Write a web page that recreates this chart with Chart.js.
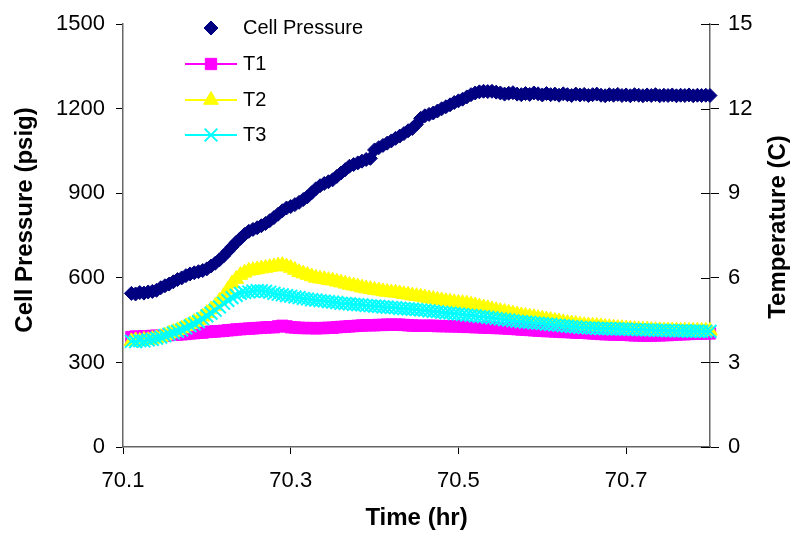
<!DOCTYPE html>
<html><head><meta charset="utf-8">
<script src="https://cdn.jsdelivr.net/npm/chart.js@4/dist/chart.umd.min.js"></script>
<style>html,body{margin:0;padding:0;background:#fff;} #wrap{width:795px;height:539px;}</style>
</head><body><div id="wrap"><canvas id="c" width="795" height="539"></canvas></div>
<script>
const times = [
70.110,70.115,70.120,70.125,70.130,70.135,70.140,70.145,70.150,70.155,
70.160,70.165,70.170,70.175,70.180,70.185,70.190,70.195,70.200,70.205,
70.210,70.215,70.220,70.225,70.230,70.235,70.240,70.245,70.250,70.255,
70.260,70.265,70.270,70.275,70.280,70.285,70.290,70.295,70.300,70.305,
70.310,70.315,70.320,70.325,70.330,70.335,70.340,70.345,70.350,70.355,
70.360,70.365,70.370,70.375,70.380,70.385,70.390,70.395,70.400,70.405,
70.410,70.415,70.420,70.425,70.430,70.435,70.440,70.445,70.450,70.455,
70.460,70.465,70.470,70.475,70.480,70.485,70.490,70.495,70.500,70.505,
70.510,70.515,70.520,70.525,70.530,70.535,70.540,70.545,70.550,70.555,
70.560,70.565,70.570,70.575,70.580,70.585,70.590,70.595,70.600,70.605,
70.610,70.615,70.620,70.625,70.630,70.635,70.640,70.645,70.650,70.655,
70.660,70.665,70.670,70.675,70.680,70.685,70.690,70.695,70.700,70.705,
70.710,70.715,70.720,70.725,70.730,70.735,70.740,70.745,70.750,70.755,
70.760,70.765,70.770,70.775,70.780,70.785,70.790,70.795,70.800];

const cellPressure = [
545,543,548,546,550,552,556,565,572,578,
586,594,600,608,614,618,622,626,632,642,
652,664,678,694,710,726,740,754,765,772,
778,785,793,803,814,826,838,848,853,860,
868,878,888,902,916,927,935,941,948,960,
972,984,996,1002,1008,1014,1020,1024,1054,1062,
1070,1078,1086,1095,1103,1112,1122,1130,1145,1166,
1175,1180,1185,1192,1200,1207,1214,1222,1228,1234,
1242,1250,1256,1260,1262,1261,1262,1259,1256,1252,
1255,1257,1252,1250,1254,1251,1256,1253,1249,1254,
1250,1252,1248,1253,1250,1247,1252,1249,1251,1247,
1250,1252,1248,1246,1250,1248,1251,1247,1249,1246,
1250,1248,1246,1249,1247,1250,1246,1248,1247,1249,
1246,1248,1247,1249,1246,1248,1247,1248,1247];

const tempT1 = [
3.90,3.92,3.91,3.93,3.92,3.94,3.95,3.94,3.95,3.97,
3.98,3.99,4.00,4.01,4.03,4.04,4.05,4.06,4.08,4.09,
4.10,4.11,4.12,4.14,4.15,4.17,4.18,4.19,4.20,4.21,
4.22,4.23,4.24,4.25,4.25,4.28,4.30,4.28,4.25,4.24,
4.23,4.22,4.22,4.22,4.21,4.22,4.22,4.23,4.23,4.25,
4.26,4.27,4.28,4.29,4.30,4.31,4.32,4.32,4.32,4.33,
4.33,4.34,4.34,4.34,4.34,4.33,4.32,4.31,4.30,4.30,
4.30,4.30,4.30,4.29,4.29,4.29,4.28,4.28,4.28,4.27,
4.26,4.26,4.25,4.25,4.24,4.23,4.23,4.22,4.22,4.21,
4.20,4.19,4.18,4.17,4.16,4.15,4.14,4.13,4.12,4.11,
4.11,4.10,4.09,4.08,4.08,4.07,4.06,4.05,4.05,4.04,
4.03,4.02,4.01,4.00,4.00,3.99,3.99,3.98,3.98,3.97,
3.96,3.96,3.95,3.95,3.95,3.96,3.96,3.97,3.97,3.98,
3.99,4.00,4.00,4.01,4.02,4.02,4.03,4.03,4.03];

const tempT2 = [
3.75,3.78,3.76,3.80,3.79,3.83,3.86,3.90,3.95,4.02,
4.08,4.14,4.20,4.28,4.35,4.43,4.50,4.62,4.75,4.88,
5.00,5.18,5.35,5.58,5.80,5.96,6.10,6.18,6.25,6.27,
6.30,6.33,6.35,6.38,6.40,6.43,6.45,6.40,6.35,6.28,
6.20,6.15,6.10,6.05,6.00,5.97,5.95,5.92,5.90,5.86,
5.83,5.79,5.75,5.72,5.69,5.65,5.62,5.60,5.57,5.55,
5.52,5.50,5.48,5.47,5.45,5.42,5.40,5.37,5.35,5.33,
5.30,5.27,5.25,5.22,5.20,5.17,5.15,5.13,5.11,5.10,
5.08,5.05,5.02,4.98,4.95,4.92,4.88,4.85,4.82,4.79,
4.76,4.73,4.70,4.67,4.65,4.62,4.60,4.57,4.55,4.52,
4.50,4.47,4.45,4.42,4.40,4.38,4.36,4.34,4.32,4.31,
4.30,4.29,4.28,4.26,4.25,4.23,4.22,4.21,4.20,4.19,
4.18,4.17,4.16,4.16,4.15,4.14,4.14,4.13,4.13,4.13,
4.13,4.12,4.13,4.12,4.12,4.12,4.12,4.12,4.12];

const tempT3 = [
3.75,3.74,3.77,3.76,3.80,3.82,3.86,3.90,3.95,4.00,
4.05,4.10,4.15,4.22,4.30,4.37,4.45,4.55,4.65,4.75,
4.85,4.97,5.10,5.20,5.30,5.38,5.45,5.48,5.50,5.53,
5.55,5.54,5.52,5.49,5.45,5.42,5.40,5.37,5.35,5.32,
5.30,5.27,5.25,5.23,5.21,5.19,5.18,5.16,5.14,5.12,
5.10,5.09,5.08,5.06,5.05,5.04,5.02,5.01,5.00,4.99,
4.97,4.96,4.95,4.94,4.92,4.91,4.90,4.89,4.88,4.86,
4.85,4.83,4.81,4.80,4.78,4.76,4.75,4.73,4.72,4.70,
4.68,4.67,4.65,4.63,4.62,4.60,4.58,4.56,4.54,4.52,
4.50,4.48,4.46,4.45,4.43,4.42,4.40,4.39,4.38,4.36,
4.35,4.33,4.32,4.30,4.29,4.27,4.26,4.24,4.23,4.22,
4.22,4.21,4.20,4.20,4.20,4.19,4.19,4.18,4.18,4.17,
4.17,4.16,4.16,4.15,4.15,4.14,4.14,4.14,4.13,4.13,
4.12,4.12,4.12,4.11,4.11,4.11,4.10,4.10,4.10];

const xTickValues = [70.1, 70.3, 70.5, 70.7];
const seriesNames = ['Cell Pressure', 'T1', 'T2', 'T3'];
const xTitle = 'Time (hr)';
const yTitle = 'Cell Pressure (psig)';
const y2Title = 'Temperature (C)';

const FONT = "'Liberation Sans', Arial, sans-serif";
Chart.defaults.font.family = FONT;
Chart.defaults.color = '#000';

const pts = arr => times.map((t, i) => ({x: t, y: arr[i]}));

const legendRows = [28, 64, 100, 135];
const insideLegend = {
  id: 'insideLegend',
  afterDraw(chart) {
    const ctx = chart.ctx;
    ctx.save();
    chart.data.datasets.forEach((ds, i) => {
      const y = legendRows[i];
      if (ds.showLine) {
        ctx.strokeStyle = ds.borderColor;
        ctx.lineWidth = 2;
        ctx.beginPath(); ctx.moveTo(185, y); ctx.lineTo(237, y); ctx.stroke();
      }
      ctx.fillStyle = ds.pointBackgroundColor;
      ctx.strokeStyle = ds.pointBorderColor;
      ctx.lineWidth = ds.pointBorderWidth;
      Chart.helpers.drawPoint(ctx, {pointStyle: ds.pointStyle, radius: ds.pointRadius, rotation: 0, borderWidth: ds.pointBorderWidth}, 211, y);
      ctx.fillStyle = '#000';
      ctx.font = "20px " + FONT;
      ctx.textAlign = 'left'; ctx.textBaseline = 'middle';
      ctx.fillText(ds.label, 243, y);
    });
    ctx.font = "bold 24px " + FONT;
    ctx.textAlign = 'center'; ctx.textBaseline = 'middle';
    ctx.save(); ctx.translate(25, 220); ctx.rotate(-Math.PI/2); ctx.fillText(yTitle, 0, 0); ctx.restore();
    ctx.save(); ctx.translate(778, 227); ctx.rotate(-Math.PI/2); ctx.fillText(y2Title, 0, 0); ctx.restore();
    const s = chart.scales.y2;
    ctx.strokeStyle = '#000'; ctx.lineWidth = 1;
    s.ticks.forEach(t => {
      const py = Math.round(s.getPixelForValue(t.value)) + 0.5;
      ctx.beginPath(); ctx.moveTo(s.left - 9, py); ctx.lineTo(s.left, py); ctx.stroke();
    });
    ctx.restore();
  }
};

new Chart(document.getElementById('c'), {
  type: 'scatter',
  data: {
    datasets: [
      {label: seriesNames[0], data: pts(cellPressure), yAxisID: 'y', showLine: false, order: 3,
       pointStyle: 'rectRot', pointRadius: 7, pointBackgroundColor: '#000080', pointBorderColor: '#000080', pointBorderWidth: 1,
       borderColor: '#000080', backgroundColor: '#000080', clip: false},
      {label: seriesNames[1], data: pts(tempT1), yAxisID: 'y2', showLine: true, order: 2,
       pointStyle: 'rect', pointRadius: 8, pointBackgroundColor: '#FF00FF', pointBorderColor: '#FF00FF', pointBorderWidth: 1,
       borderColor: '#FF00FF', backgroundColor: '#FF00FF', borderWidth: 2, clip: false},
      {label: seriesNames[2], data: pts(tempT2), yAxisID: 'y2', showLine: true, order: 1,
       pointStyle: 'triangle', pointRadius: 8.5, pointBackgroundColor: '#FFFF00', pointBorderColor: '#FFFF00', pointBorderWidth: 1,
       borderColor: '#FFFF00', backgroundColor: '#FFFF00', borderWidth: 2, clip: false},
      {label: seriesNames[3], data: pts(tempT3), yAxisID: 'y2', showLine: true, order: 0,
       pointStyle: 'crossRot', pointRadius: 9, pointBackgroundColor: '#00FFFF', pointBorderColor: '#00FFFF', pointBorderWidth: 2,
       borderColor: '#00FFFF', backgroundColor: '#00FFFF', borderWidth: 2, clip: false}
    ]
  },
  options: {
    responsive: false, animation: false, devicePixelRatio: 1,
    layout: {padding: {top: 20, left: 0, right: 0, bottom: 0}},
    plugins: {legend: {display: false}, tooltip: {enabled: false}},
    elements: {line: {tension: 0}},
    scales: {
      x: {
        type: 'linear', position: 'bottom', min: 70.1, max: 70.8,
        afterBuildTicks: s => { s.ticks = xTickValues.map(v => ({value: v})); },
        afterFit: s => { s.height = 92; },
        ticks: {callback: v => Number(v).toFixed(1), font: {size: 22}, padding: 14, maxRotation: 0, autoSkip: false, color: '#000'},
        grid: {drawOnChartArea: false, drawTicks: true, tickLength: 7, color: '#000', lineWidth: 1},
        border: {display: true, color: '#666', width: 1.5},
        title: {display: true, text: xTitle, font: {size: 24, weight: 'bold'}, padding: {top: 0, bottom: 6}, color: '#000'}
      },
      y: {
        type: 'linear', position: 'left', min: 0, max: 1500,
        afterFit: s => { s.width = 123; },
        ticks: {stepSize: 300, callback: v => String(v), font: {size: 22}, padding: 11, color: '#000'},
        grid: {drawOnChartArea: false, drawTicks: true, tickLength: 7, color: '#000', lineWidth: 1},
        border: {display: true, color: '#666', width: 1.5},
        title: {display: false}
      },
      y2: {
        type: 'linear', position: 'right', min: 0, max: 15,
        afterFit: s => { s.width = 85; },
        ticks: {stepSize: 3, callback: v => String(v), font: {size: 22}, padding: 9, color: '#000'},
        grid: {drawOnChartArea: false, drawTicks: true, tickLength: 9, color: '#000', lineWidth: 1},
        border: {display: true, color: '#666', width: 1.5},
        title: {display: false}
      }
    }
  },
  plugins: [insideLegend]
});
</script>
</body></html>
